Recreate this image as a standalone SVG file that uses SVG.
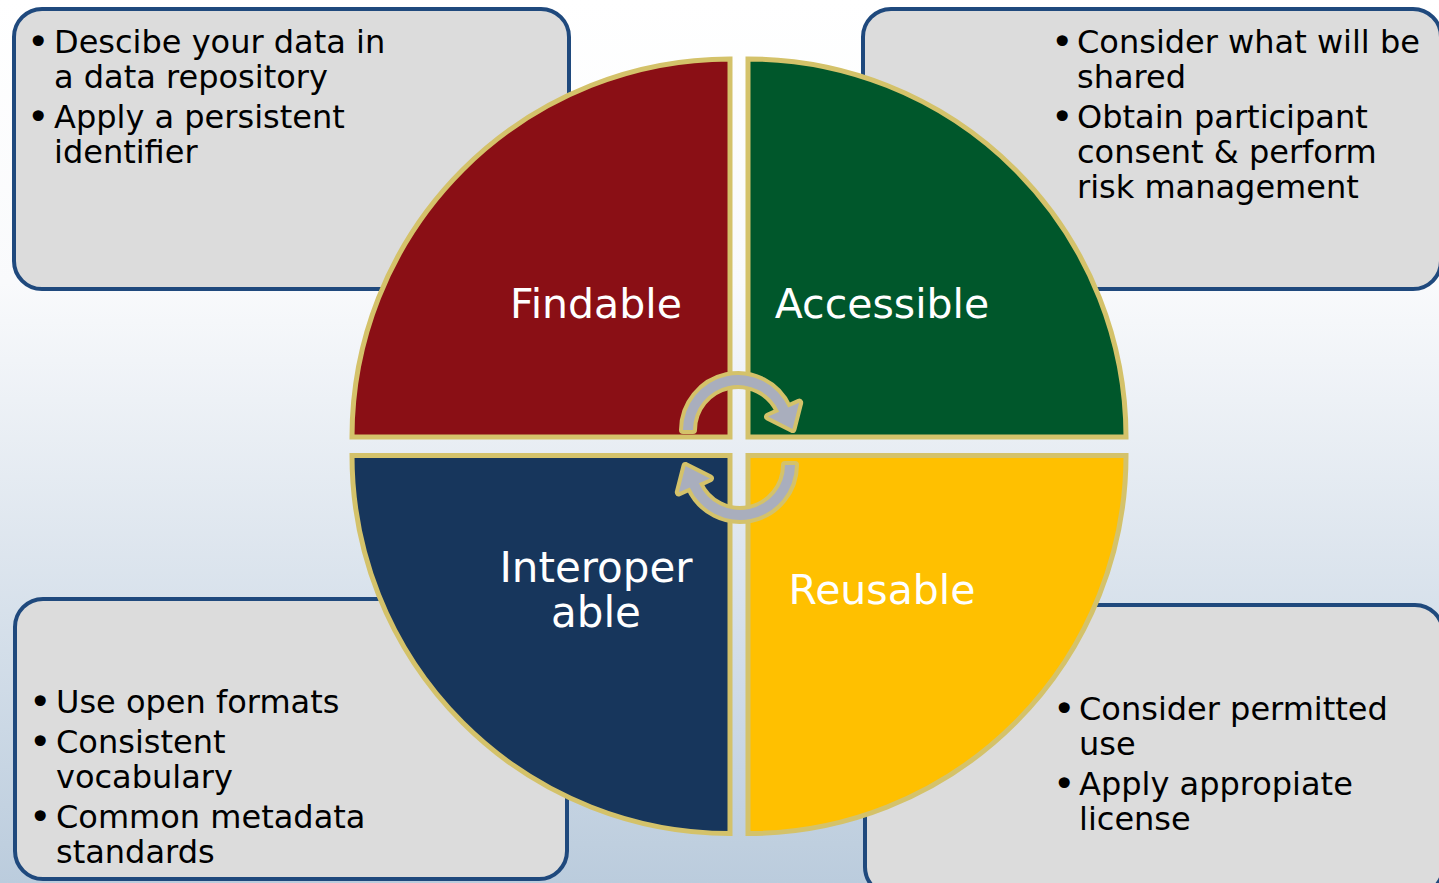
<svg xmlns="http://www.w3.org/2000/svg" width="1439" height="883" viewBox="0 0 1439 883">
<defs>
<linearGradient id="bg" x1="0" y1="0" x2="0" y2="1">
<stop offset="0" stop-color="#FFFFFF"/>
<stop offset="0.32" stop-color="#F9FAFC"/>
<stop offset="1" stop-color="#BBCCDD"/>
</linearGradient>
<path id="arrow" d="M683,430 A55,55 0 0 1 788.2,407.6 L799.2,402.7 L792.5,429 L768.1,416.6 L779.1,411.7 A45,45 0 0 0 693,430 Z"/>
</defs>
<style>
.box{fill:#DCDCDC;stroke:#1F497D;stroke-width:4}
.quad{stroke:#D4C26A;stroke-width:5;stroke-linejoin:miter}
.txt{font-family:"DejaVu Sans","Verdana",sans-serif;font-size:32px;fill:#000}
.bul{font-family:"DejaVu Sans","Verdana",sans-serif;font-size:38px;fill:#000}
.lbl{font-family:"DejaVu Sans","Verdana",sans-serif;font-size:41px;fill:#FFFFFF;text-anchor:middle}
.arr{fill:#A9AEBD;stroke:#D4C26A;stroke-width:8;paint-order:stroke;stroke-linejoin:round}
</style>
<rect x="0" y="0" width="1439" height="883" fill="url(#bg)"/>

<g id="box-findable">
<rect class="box" x="14" y="9" width="555" height="280" rx="28"/>
<text class="bul" x="27" y="55">•</text>
<text class="txt" x="54" y="53">Descibe your data in</text>
<text class="txt" x="54" y="88">a data repository</text>
<text class="bul" x="27" y="130">•</text>
<text class="txt" x="54" y="128">Apply a persistent</text>
<text class="txt" x="54" y="163">identifier</text>
</g>

<g id="box-accessible">
<rect class="box" x="863" y="9" width="578" height="280" rx="28"/>
<text class="bul" x="1051" y="55">•</text>
<text class="txt" x="1077" y="53">Consider what will be</text>
<text class="txt" x="1077" y="88">shared</text>
<text class="bul" x="1051" y="130">•</text>
<text class="txt" x="1077" y="128">Obtain participant</text>
<text class="txt" x="1077" y="163">consent &amp; perform</text>
<text class="txt" x="1077" y="198">risk management</text>
</g>

<g id="box-interoperable">
<rect class="box" x="15" y="599" width="552" height="280" rx="28"/>
<text class="bul" x="29" y="715">•</text>
<text class="txt" x="56" y="713">Use open formats</text>
<text class="bul" x="29" y="755">•</text>
<text class="txt" x="56" y="753">Consistent</text>
<text class="txt" x="56" y="788">vocabulary</text>
<text class="bul" x="29" y="830">•</text>
<text class="txt" x="56" y="828">Common metadata</text>
<text class="txt" x="56" y="863">standards</text>
</g>

<g id="box-reusable">
<rect class="box" x="865" y="605" width="578" height="290" rx="28"/>
<text class="bul" x="1053" y="722">•</text>
<text class="txt" x="1079" y="720">Consider permitted</text>
<text class="txt" x="1079" y="755">use</text>
<text class="bul" x="1053" y="797">•</text>
<text class="txt" x="1079" y="795">Apply appropiate</text>
<text class="txt" x="1079" y="830">license</text>
</g>

<g id="findable">
<path class="quad" fill="#8A0F15" d="M730,437 L352,437 A378,378 0 0 1 730,59 Z"/>
<text class="lbl" x="596" y="318">Findable</text>
</g>
<g id="accessible">
<path class="quad" fill="#00572B" d="M748,437 L748,59 A378,378 0 0 1 1126,437 Z"/>
<text class="lbl" x="882" y="318">Accessible</text>
</g>
<g id="interoperable">
<path class="quad" fill="#17365C" d="M730,455.5 L730,833.5 A378,378 0 0 1 352,455.5 Z"/>
<text class="lbl" x="596" y="582" style="font-size:42px">Interoper</text>
<text class="lbl" x="596" y="627" style="font-size:42px">able</text>
</g>
<g id="reusable">
<path class="quad" fill="#FFC000" d="M748,455.5 L1126,455.5 A378,378 0 0 1 748,833.5 Z"/>
<text class="lbl" x="882" y="604">Reusable</text>
</g>

<g id="connectors">
<use href="#arrow" class="arr"/>
<use href="#arrow" class="arr" transform="rotate(180 739 447.5)"/>
</g>
</svg>
